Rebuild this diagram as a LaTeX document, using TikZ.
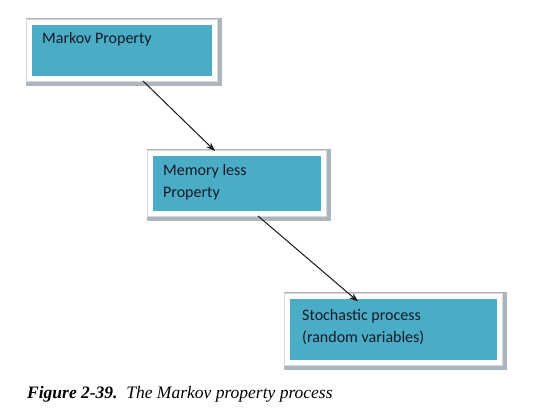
\documentclass[tikz,border=0pt]{standalone}
\usepackage{fontspec}
\setmainfont{Liberation Serif}
\newfontfamily\boxfont{Carlito}
\usetikzlibrary{arrows.meta,calc,backgrounds}
\definecolor{boxblue}{HTML}{4BACC6}
\definecolor{boxtext}{HTML}{151A28}
\definecolor{shadowgray}{HTML}{AEB6BD}
\definecolor{framegray}{HTML}{D6D9DC}
\tikzset{
  mbox/.style={rectangle, fill=boxblue, draw=white, line width=5pt,
    preaction={draw=framegray, line width=7pt},
    inner sep=0pt},
  mshadow/.style={fill=shadowgray},
  mtext/.style={anchor=base west, inner sep=0pt, text=boxtext,
    font=\boxfont\fontsize{16}{22.5}\selectfont, align=left},
  conn/.style={draw=black!90, line width=1pt, -{Stealth[length=9pt,width=6.5pt]}}
}
\begin{document}
\begin{tikzpicture}[x=1pt,y=-1pt]
\useasboundingbox (0,0) rectangle (547,419);
\node[mbox, minimum width=185pt, minimum height=56pt] (b1) at (122,50.5) {};
\node[mbox, minimum width=173pt, minimum height=60pt] (b2) at (237,183.5) {};
\node[mbox, minimum width=212pt, minimum height=66pt] (b3) at (393.5,329.5) {};
\begin{scope}[on background layer]
  \foreach \b in {b1,b2,b3}
    \fill[mshadow] ($(\b.north west)+(-1.5,-1.5)$) rectangle ($(\b.south east)+(5,5)$);
\end{scope}
\node[mtext] (t1) at (42,44) {Markov Property};
\node[mtext] (t2) at (163,198) {Memory less\\Property};
\node[mtext] (t3) at (302,343) {Stochastic process\\(random variables)};
\draw[conn] ($(b1.south)+(21,0)$) -- ($(b2.north)+(-22,0)$);
\draw[conn] ($(b2.south)+(21,0)$) -- ($(b3.north)+(-35.5,7.5)$);
\node[anchor=base west, inner sep=0pt, font=\fontsize{17.5}{20}\selectfont] (cap) at (27,399)
  {\textbf{\textit{Figure 2-39.}}\hspace{0.5em}\textit{The Markov property process}};
\end{tikzpicture}
\end{document}
